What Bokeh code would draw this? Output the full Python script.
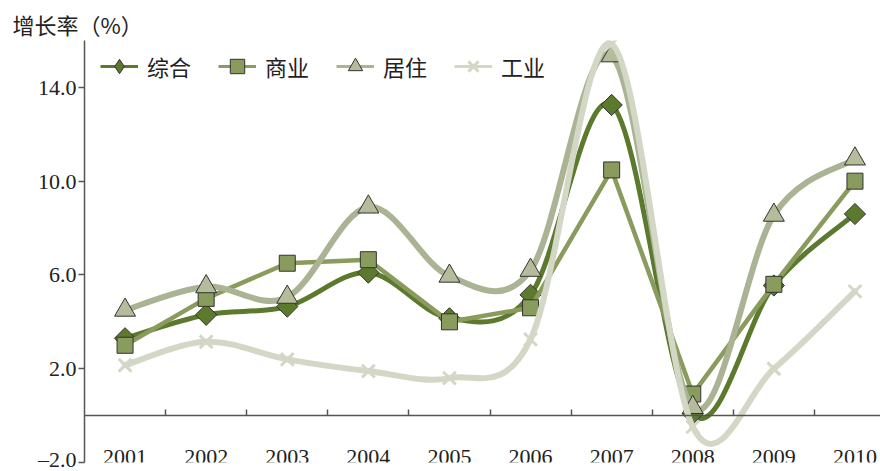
import numpy as np
from bokeh.plotting import figure
from bokeh.models import FixedTicker, LinearAxis, Legend, LegendItem, Title, Range1d
from bokeh.embed import file_html
from bokeh.resources import INLINE

years = ["2001", "2002", "2003", "2004", "2005", "2006", "2007", "2008", "2009", "2010"]
series_names = ["综合", "商业", "居住", "工业"]
zonghe = [3.3, 4.3, 4.65, 6.1, 4.15, 5.15, 13.25, 0.08, 5.55, 8.6]
shangye = [3.0, 5.0, 6.5, 6.65, 4.0, 4.6, 10.48, 0.92, 5.6, 10.0]
juzhu = [4.5, 5.5, 5.05, 8.9, 5.95, 6.2, 15.35, 0.35, 8.55, 10.95]
gongye = [2.15, 3.15, 2.4, 1.9, 1.6, 3.25, 15.85, -0.48, 2.0, 5.3]
y_ticks = [-2, 2, 6, 10, 14]
y_tick_labels = ["\u20132.0", "2.0", "6.0", "10.0", "14.0"]

x = np.arange(1, len(years) + 1, dtype=float)

def smooth(xs, ys):
    P = np.column_stack([xs, np.asarray(ys, dtype=float)])
    Pm = np.vstack([P[:1], P, P[-1:]])
    p0, p1, p2, p3 = Pm[:-3], Pm[1:-2], Pm[2:-1], Pm[3:]
    c1 = p1 + (p2 - p0) / 6.0
    c2 = p2 - (p3 - p1) / 6.0
    return dict(x0=p1[:, 0], y0=p1[:, 1], x1=p2[:, 0], y1=p2[:, 1],
                cx0=c1[:, 0], cy0=c1[:, 1], cx1=c2[:, 0], cy1=c2[:, 1])

p = figure(width=880, height=471, output_backend="svg", toolbar_location=None,
           x_range=Range1d(0.5, 10.315), y_range=Range1d(-2, 16),
           x_axis_location=None,
           min_border_left=84, min_border_right=0, min_border_top=40, min_border_bottom=9)
p.grid.visible = False
p.outline_line_color = None
p.background_fill_color = "white"

serif = "Liberation Serif"
cjk = "Noto Sans CJK SC"
axis_color = "#555555"
text_color = "#222222"

# y axis
ya = p.yaxis[0]
ya.ticker = FixedTicker(ticks=y_ticks)
ya.major_label_overrides = {t: l for t, l in zip(y_ticks, y_tick_labels)}
ya.minor_tick_line_color = None
ya.major_tick_in = 0
ya.major_tick_out = 6
ya.axis_line_color = axis_color
ya.axis_line_width = 1.5
ya.major_tick_line_color = axis_color
ya.major_tick_line_width = 1.5
ya.major_label_text_font = serif
ya.major_label_text_font_size = "22px"
ya.major_label_text_color = text_color
ya.major_label_standoff = 2

# x axis drawn at y = 0: labels at the years, ticks at category boundaries
xa = LinearAxis(fixed_location=0,
                ticker=FixedTicker(ticks=list(x), minor_ticks=list(x[:-1] + 0.5)))
overrides = {}
for v, yr in zip(x, years):
    overrides[float(v)] = yr
    overrides[int(v)] = yr
xa.major_label_overrides = overrides
xa.axis_line_color = axis_color
xa.axis_line_width = 1.5
xa.major_tick_line_color = None
xa.minor_tick_line_color = axis_color
xa.minor_tick_line_width = 1.5
xa.minor_tick_in = 6
xa.minor_tick_out = 0
xa.major_label_text_font = serif
xa.major_label_text_font_size = "22px"
xa.major_label_text_color = text_color
xa.major_label_standoff = 28
p.add_layout(xa, "below")

outline = "#333333"
items = []
nan = [np.nan]

# 综合
c = "#5b7a2d"
p.bezier(line_color=c, line_width=5, line_cap="round", **smooth(x, zonghe))
p.scatter(x, zonghe, marker="square", angle=np.pi / 4, size=15,
          fill_color=c, line_color=outline, line_width=1)
lz = p.line(nan, nan, line_color=c, line_width=3)
mz = p.scatter(nan, nan, marker="diamond", fill_color=c, line_color=outline, line_width=1)
items.append(LegendItem(label=series_names[0], renderers=[lz, mz]))

# 商业
c = "#8a9b5e"
ls = p.line(x, shangye, line_color=c, line_width=4.5, line_join="round")
ss = p.scatter(x, shangye, marker="square", size=16,
               fill_color=c, line_color=outline, line_width=1)
ls_p = p.line(nan, nan, line_color=c, line_width=3)
items.append(LegendItem(label=series_names[1], renderers=[ls_p, ss]))

# 居住
c = "#aab394"
p.bezier(line_color=c, line_width=6, line_cap="round", **smooth(x, juzhu))
sj = p.scatter(x, juzhu, marker="triangle", size=21,
               fill_color="#b4bc9c", line_color=outline, line_width=1)
lj = p.line(nan, nan, line_color=c, line_width=3)
items.append(LegendItem(label=series_names[2], renderers=[lj, sj]))

# 工业
c = "#d3d7c5"
p.bezier(line_color=c, line_width=6, line_cap="round", **smooth(x, gongye))
sg = p.scatter(x, gongye, marker="x", size=18, line_color=c, line_width=3)
lg = p.line(nan, nan, line_color=c, line_width=3)
items.append(LegendItem(label=series_names[3], renderers=[lg, sg]))

legend = Legend(items=items, orientation="horizontal", location=(16, 378),
                border_line_color=None, background_fill_alpha=0,
                padding=0, margin=0, spacing=27, label_standoff=9,
                glyph_width=38, glyph_height=36,
                label_text_font=cjk, label_text_font_size="22px",
                label_text_color=text_color)
p.add_layout(legend, "center")

p.add_layout(Title(text="增长率（%）", align="left", offset=-72, standoff=2,
                   text_font=cjk, text_font_size="22px", text_color=text_color,
                   text_font_style="normal"), "above")

open("out.html", "w").write(file_html(p, INLINE))
